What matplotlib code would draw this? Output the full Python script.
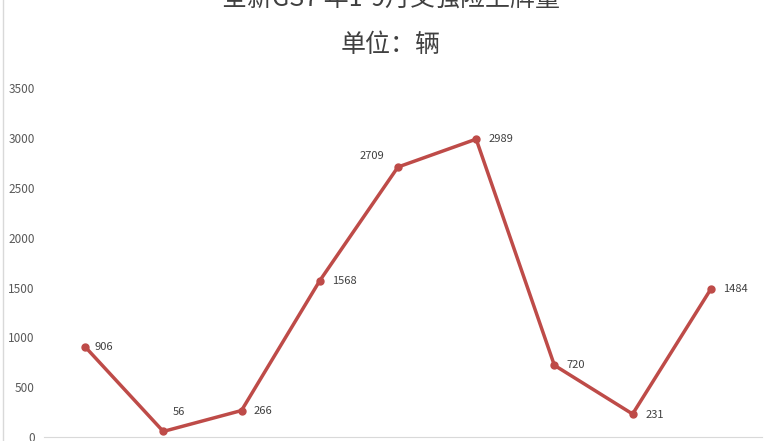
import matplotlib.pyplot as plt

plt.rcParams['font.family'] = ['Noto Sans CJK SC', 'DejaVu Sans']

months = ['1月', '2月', '3月', '4月', '5月', '6月', '7月', '8月', '9月']
sales = [906, 56, 266, 1568, 2709, 2989, 720, 231, 1484]
yticks = [0, 500, 1000, 1500, 2000, 2500, 3000, 3500]

# label offsets in points (dx, dy, ha)
offsets = [(7, 0, 'left'), (7, 14, 'left'), (9, 0, 'left'), (9, 0, 'left'),
           (-10, 8, 'right'), (9, 0, 'left'), (9, 0, 'left'), (9, -1, 'left'),
           (9, 0, 'left')]

fig = plt.figure(figsize=(7.66, 4.41), dpi=100)
ax = fig.add_axes([0.060, 0.009, 0.919, 0.791])

x = range(len(sales))
ax.plot(x, sales, color='#BE4B48', linewidth=2.5, marker='o', markersize=5,
        clip_on=False, zorder=3)

for i, v in enumerate(sales):
    dx, dy, ha = offsets[i]
    ax.annotate(str(v), (i, v), xytext=(dx, dy), textcoords='offset points',
                ha=ha, va='center', fontsize=8, color='#404040')

ax.set_xlim(-0.5, len(sales) - 0.5)
ax.set_ylim(0, 3500)
ax.set_yticks(yticks)
ax.set_yticklabels([str(t) for t in yticks], fontsize=8.5, color='#595959')
ax.set_xticks([])
ax.tick_params(axis='y', length=0, pad=8)
for s in ['top', 'right', 'left']:
    ax.spines[s].set_visible(False)
ax.spines['bottom'].set_color('#D9D9D9')
ax.spines['bottom'].set_bounds(-0.52, 8.65)

# title (top line partly cut off in the reference)
fig.text(0.51, 1.0 + 1 / 441, '全新GS7 年1-9月交强险上牌量', ha='center', va='center',
         fontsize=18, color='#404040')
fig.text(0.51, 1.0 - 45 / 441, '单位：辆', ha='center', va='center',
         fontsize=18, color='#404040')

# left border of the chart frame
fig.add_artist(plt.Line2D([3 / 766, 3 / 766], [0, 1], color='#D9D9D9', linewidth=1))

fig.savefig('out.png', dpi=100)
